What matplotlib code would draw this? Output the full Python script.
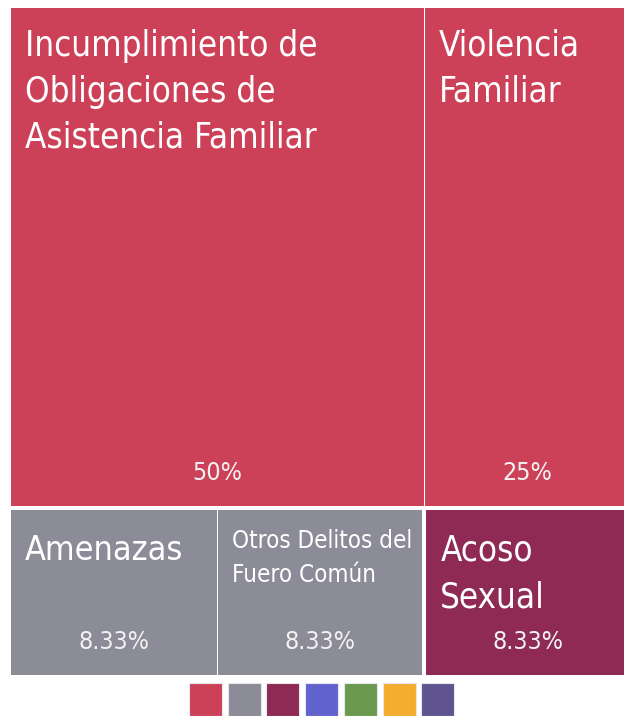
import matplotlib
matplotlib.use("Agg")
import matplotlib.pyplot as plt
from matplotlib import font_manager
from matplotlib.patches import Rectangle

# ---- data ----
categories = [
    "Incumplimiento de\nObligaciones de\nAsistencia Familiar",
    "Violencia\nFamiliar",
    "Amenazas",
    "Otros Delitos del\nFuero Común",
    "Acoso\nSexual",
]
values = [50.0, 25.0, 8.33, 8.33, 8.33]
labels_pct = ["50%", "25%", "8.33%", "8.33%", "8.33%"]
groups = [0, 0, 1, 1, 2]          # colour group of each cell
rows = [[0, 1], [2, 3, 4]]         # cells laid out per row
group_colors = ["#CC4158", "#8C8C99", "#8E2A53"]
legend_colors = ["#CC4158", "#8C8C99", "#8E2A53", "#6262CF", "#6B9A4F", "#F4AE2F", "#5F548F"]
name_sizes = [25, 25, 24.5, 17.3, 25]
name_baseline = [48, 48, 50, 38, 50]   # first-line baseline below cell top (px)
name_step = [46, 46, 46, 34, 47]       # distance between baselines (px)

names = {f.name for f in font_manager.fontManager.ttflist}
if "Liberation Sans Narrow" in names:
    FONT = dict(family="Liberation Sans Narrow")
else:
    FONT = dict(family="DejaVu Sans", stretch="condensed")

W, H = 624, 716
fig = plt.figure(figsize=(W / 100, H / 100), dpi=100)
ax = fig.add_axes([0, 0, 1, 1])
ax.set_xlim(0, W)
ax.set_ylim(H, 0)
ax.axis("off")

# treemap frame (runs slightly past the right edge)
X0, X1, Y0, Y1 = 11, 631, 8, 675
total = sum(values)
y = Y0
for row in rows:
    row_sum = sum(values[i] for i in row)
    h = (Y1 - Y0) * row_sum / total
    x = X0
    for k, i in enumerate(row):
        w = (X1 - X0) * values[i] / row_sum
        # wider gap between colour groups than inside a group
        nxt = row[k + 1] if k + 1 < len(row) else None
        right_gap = 2.0 if (nxt is not None and groups[nxt] != groups[i]) else 0.8
        prv = row[k - 1] if k > 0 else None
        left_gap = 2.0 if (prv is not None and groups[prv] != groups[i]) else (0.8 if prv is not None else 0)
        top_gap = 2.0 if y > Y0 else 0
        bot_gap = 2.0 if y + h < Y1 - 1 else 0
        rx, ry = x + left_gap, y + top_gap
        rw, rh = w - left_gap - right_gap, h - top_gap - bot_gap
        ax.add_patch(Rectangle((rx, ry), rw, rh, facecolor=group_colors[groups[i]],
                               edgecolor="none"))
        for n, line in enumerate(categories[i].split("\n")):
            ax.text(rx + 14, ry + name_baseline[i] + n * name_step[i], line,
                    color="white", fontsize=name_sizes[i], va="baseline", ha="left",
                    **FONT)
        ax.text(rx + rw / 2, ry + rh - 33, labels_pct[i], color="#F2F2F2", fontsize=18,
                va="center", ha="center", **FONT)
        x += w
    y += h

# colour legend
sq, step, lx, ly = 33, 38.7, 189, 683
for j, c in enumerate(legend_colors):
    ax.add_patch(Rectangle((lx + j * step, ly), sq, sq, facecolor=c,
                           edgecolor="#E6E6EE", linewidth=0.8))

fig.savefig("out.png", dpi=100)
